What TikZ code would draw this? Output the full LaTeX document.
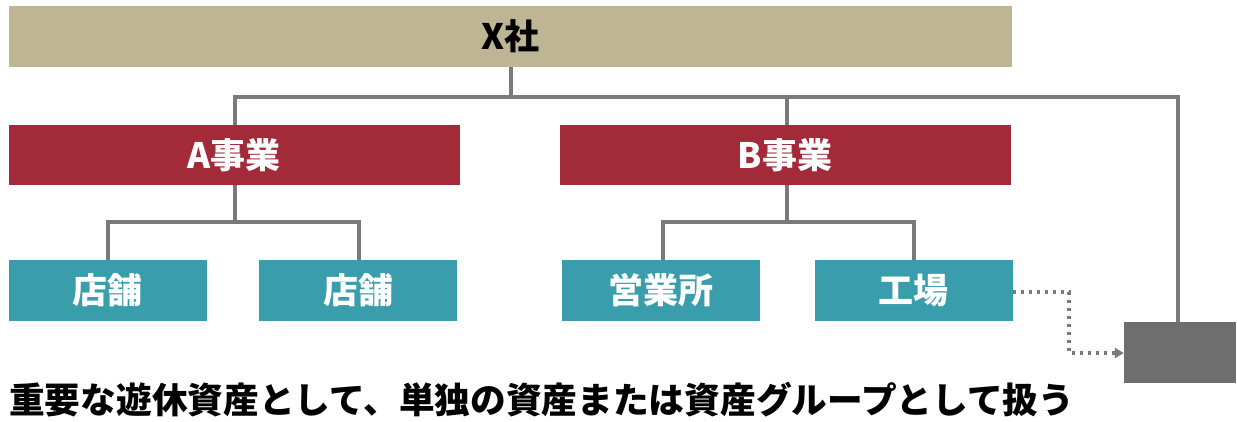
\documentclass[tikz,border=0pt]{standalone}
\usepackage{fontspec}
\newfontfamily\jp{Noto Sans CJK JP}
\usetikzlibrary{arrows.meta}
\definecolor{tan}{HTML}{BDB594}
\definecolor{bizred}{HTML}{A32A38}
\definecolor{teal2}{HTML}{3A9DAC}
\definecolor{boxgray}{HTML}{6E6E6E}
\definecolor{linegray}{HTML}{7A7A7A}
\tikzset{
  x=1pt, y=-1pt,
  box/.style={minimum height=61pt, inner sep=0pt, font=\jp\bfseries\fontsize{35}{35}\selectfont},
  topbox/.style={box, fill=tan, text=black, minimum width=1003pt},
  redbox/.style={box, fill=bizred, text=white, minimum width=451pt, minimum height=60pt},
  tealbox/.style={box, fill=teal2, text=white, minimum width=198pt},
  conn/.style={draw=linegray, line width=4pt},
  dotconn/.style={draw=linegray, line width=3.5pt, dash pattern=on 3.5pt off 4.5pt, -{Triangle[length=9pt,width=10pt]}},
}
\begin{document}
\begin{tikzpicture}
\useasboundingbox (0,0) rectangle (1237,422);
\node[topbox] (x) at (510.5,36.5) {X社};
\node[redbox] (a) at (234,155) {A事業};
\node[redbox] (b) at (785,155) {B事業};
\node[tealbox] (a1) at (107.5,290.5) {店舗};
\node[tealbox] (a2) at (358,290.5) {店舗};
\node[tealbox] (b1) at (661,290.5) {営業所};
\node[tealbox] (b2) at (913.5,290.5) {工場};
\node[box, fill=boxgray, minimum width=112pt, minimum height=61pt] (g) at (1180,352.5) {};
\node[anchor=west, inner sep=0pt, font=\jp\bfseries\fontsize{35.7}{35.7}\selectfont] (t) at (9,400) {重要な遊休資産として、単独の資産または資産グループとして扱う};
\coordinate (hx) at (511,97);
\draw[conn] (x.south -| hx) -- (hx);
\draw[conn] (a.north -| 235,0) -- (235,97) -- (1178,97) -- (g.north -| 1178,0);
\draw[conn] (787,97) -- (b.north -| 787,0);
\draw[conn] (a.south -| 235,0) -- (235,222);
\draw[conn] (a1.north -| 108,0) -- (108,222) -- (359,222) -- (a2.north -| 359,0);
\draw[conn] (b.south -| 787,0) -- (787,222);
\draw[conn] (b1.north -| 663,0) -- (663,222) -- (914,222) -- (b2.north -| 914,0);
\draw[dotconn] (b2.east |- 0,292) -- (1069,292) -- (1069,353) -- (g.west |- 0,353);
\end{tikzpicture}
\end{document}
